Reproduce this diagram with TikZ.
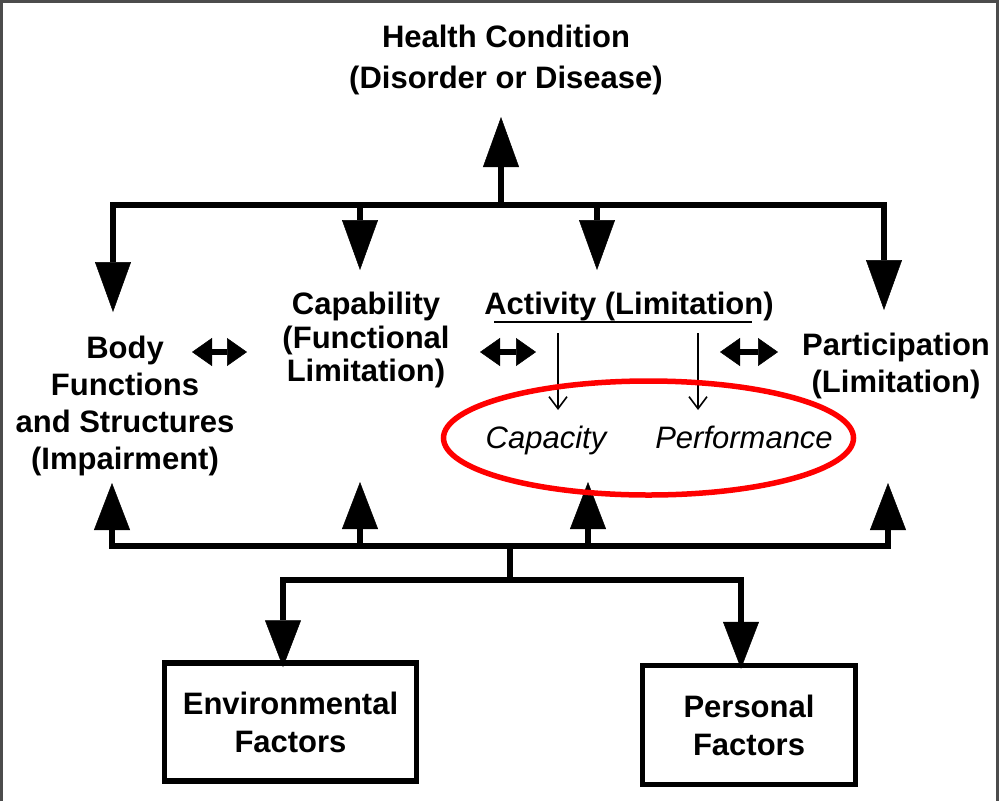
\documentclass[tikz,border=0pt]{standalone}
\usepackage{fontspec}
\setmainfont{Liberation Sans}
\usetikzlibrary{arrows.meta}
\begin{document}
\begin{tikzpicture}[x=1pt,y=-1pt,
  bold/.style={font=\fontsize{31}{37}\selectfont\bfseries, align=center, inner sep=0pt},
  ital/.style={font=\fontsize{31}{37}\selectfont\itshape, inner sep=0pt},
  bigtip/.tip={Triangle[width=36pt,length=50pt,line width=0.5pt]},
  midtip/.tip={Triangle[width=36pt,length=47pt,line width=0.5pt]},
  dbltip/.tip={Triangle[width=28pt,length=20pt,line width=0.5pt]},
  bar/.style={line width=6pt, line join=miter},
  stem/.style={line width=6pt, -bigtip},
  upstem/.style={line width=6pt, -midtip},
  dblarrow/.style={line width=6pt, dbltip-dbltip},
  thin/.style={line width=1.6pt, -{Straight Barb[length=12pt,width=18pt,line width=1.6pt]}},
  boxnode/.style={draw, line width=5.5pt, bold, inner sep=0pt},
  hilite/.style={draw=red, line width=5.5pt}
]
\useasboundingbox (0,0) rectangle (1000,801);
\fill[white] (0,0) rectangle (1000,801);
\draw[line width=3pt, black!70] (1.5,801) -- (1.5,1.5) -- (997,1.5) -- (997,801);

% text nodes
\node[bold, font=\fontsize{31}{41}\selectfont\bfseries] (hc) at (506,60) {Health Condition\\(Disorder or Disease)};
\node[bold] (body) at (125,406) {Body\\Functions\\and Structures\\(Impairment)};
\node[bold, font=\fontsize{31}{33.5}\selectfont\bfseries] (cap) at (366,340) {Capability\\(Functional\\Limitation)};
\node[bold, anchor=base] (act) at (629,314) {Activity (Limitation)};
\node[bold] (part) at (896,366) {Participation\\(Limitation)};
\node[ital, anchor=base] (capa) at (546,448) {Capacity};
\node[ital, anchor=base] (perf) at (744,448) {Performance};
\node[boxnode, font=\fontsize{31}{38}\selectfont\bfseries, minimum width=252pt, minimum height=118pt] (env) at (290.5,722) {Environmental\\Factors};
\node[boxnode, font=\fontsize{31}{38}\selectfont\bfseries, minimum width=213pt, minimum height=119pt] (pers) at (749,725) {Personal\\Factors};

% coordinates
\coordinate (hcj) at (501,205);
\coordinate (hctip) at (501,117);
\coordinate (bodytip) at (113,312);
\coordinate (parttip) at (884,310);
\coordinate (capj) at (360,205);
\coordinate (captip) at (360,270);
\coordinate (actj) at (597,205);
\coordinate (acttip) at (597,270);

\coordinate (bodyup) at (112,483);
\coordinate (partup) at (888,483);
\coordinate (capb) at (360,546);
\coordinate (capup) at (360,482);
\coordinate (actb) at (588,546);
\coordinate (actup) at (588,482);
\coordinate (mj) at (510,546);
\coordinate (lj) at (510,580);

% top distribution
\draw[bar, bigtip-bigtip] (bodytip) -- (113,205) -- (884,205) -- (parttip);
\draw[stem] (hcj) -- (hctip);
\draw[stem] (capj) -- (captip);
\draw[stem] (actj) -- (acttip);

% bottom collection
\draw[bar, midtip-midtip] (bodyup) -- (112,546) -- (888,546) -- (partup);
\draw[upstem] (capb) -- (capup);
\draw[upstem] (actb) -- (actup);
\draw[bar] (mj) -- (lj);
\draw[bar, -midtip] (lj) -- (283,580) -- ([yshift=-7pt]env.north -| 283,0);
\draw[bar, -midtip] (lj) -- (741,580) -- ([yshift=-6pt]pers.north -| 741,0);

% double arrows
\draw[dblarrow] (192,352) -- (247,352);
\draw[dblarrow] (480,352) -- (536,352);
\draw[dblarrow] (720,352) -- (778,352);

% activity breakdown
\draw[line width=2.5pt] (494,322) -- (752,322);
\draw[thin] (558,333) -- (558,410);
\draw[thin] (698,333) -- (698,410);

% highlight
\draw[hilite] (648.5,438) ellipse [x radius=205, y radius=57];
\end{tikzpicture}
\end{document}
